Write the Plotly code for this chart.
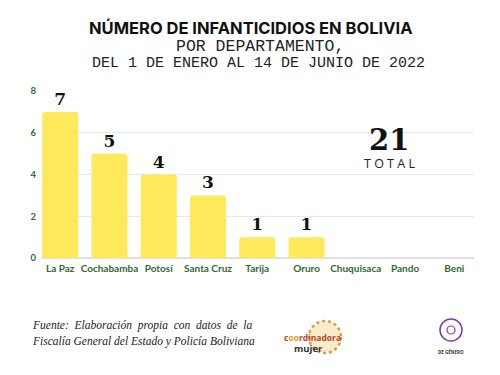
import plotly.graph_objects as go

departamentos = ["La Paz", "Cochabamba", "Potosí", "Santa Cruz", "Tarija", "Oruro", "Chuquisaca", "Pando", "Beni"]
infanticidios = [7, 5, 4, 3, 1, 1, 0, 0, 0]
y_ticks = [0, 2, 4, 6, 8]
total = sum(infanticidios)

W, H = 500, 375
L, R, T, B = 42, 26, 91, 117

def fx(x):
    return (x - L) / (W - L - R)

def fy(y):
    return (H - y - B) / (H - T - B)

labels = [str(v) if v > 0 else "" for v in infanticidios]

fig = go.Figure()
fig.add_trace(go.Bar(
    x=departamentos, y=infanticidios,
    marker=dict(color="#FDE95A", line=dict(width=0)),
    width=0.73,
    text=labels, textposition="outside", cliponaxis=False,
    textfont=dict(family="DejaVu Serif", size=17, color="#111111", weight="bold"),
    hoverinfo="skip",
))

fig.update_layout(
    width=W, height=H,
    margin=dict(l=L, r=R, t=T, b=B),
    paper_bgcolor="white", plot_bgcolor="white",
    showlegend=False,
    barcornerradius=3,
    xaxis=dict(
        range=[-0.37, 8.4], showgrid=False, zeroline=False, showline=False,
        ticks="", ticklabelstandoff=3,
        tickfont=dict(family="Lato", size=10, color="#2f6a30", weight="bold"),
        fixedrange=True,
    ),
    yaxis=dict(
        range=[0, 8], tickvals=y_ticks, showgrid=True, gridcolor="#e8e8e8", gridwidth=1,
        zeroline=True, zerolinecolor="#e0e0e0", zerolinewidth=2, showline=False,
        ticks="", ticklabelstandoff=5,
        tickfont=dict(family="Lato", size=9.5, color="#2f6a30", weight="bold"),
        fixedrange=True,
    ),
)

ann = [
    dict(text="<b>NÚMERO DE INFANTICIDIOS EN BOLIVIA</b>", x=fx(250), y=fy(28), xanchor="center", yanchor="middle",
         font=dict(family="Inter", size=16.5, color="#111111")),
    dict(text="POR DEPARTAMENTO,", x=fx(260), y=fy(47), xanchor="center", yanchor="middle",
         font=dict(family="Liberation Mono", size=16.5, color="#222222")),
    dict(text="DEL 1 DE ENERO AL 14 DE JUNIO DE 2022", x=fx(258), y=fy(63), xanchor="center", yanchor="middle",
         font=dict(family="Liberation Mono", size=15, color="#222222")),
    dict(text="<b>" + str(total) + "</b>", x=fx(389), y=fy(140), xanchor="center", yanchor="middle",
         font=dict(family="DejaVu Serif", size=29, color="#111111")),
    dict(text="T O T A L", x=fx(389), y=fy(163), xanchor="center", yanchor="middle",
         font=dict(family="Open Sans", size=12.5, color="#222222")),
    dict(text="<i>Fuente:  Elaboración  propia  con  datos  de  la</i>", x=fx(30), y=fy(325), xanchor="left", yanchor="middle",
         font=dict(family="Liberation Serif", size=11.5, color="#222222")),
    dict(text="<i>Fiscalía General del Estado y Policía Boliviana</i>", x=fx(30), y=fy(341), xanchor="left", yanchor="middle",
         font=dict(family="Liberation Serif", size=11.5, color="#222222")),
    dict(text="<b>c<span style='color:#e0a030'>oo</span>rdinadora</b>", x=fx(282), y=fy(337), xanchor="left", yanchor="middle",
         font=dict(family="Open Sans", size=8.5, color="#b8462a")),
    dict(text="<b>mujer</b>", x=fx(292), y=fy(348), xanchor="left", yanchor="middle",
         font=dict(family="Open Sans", size=9.5, color="#333333")),
    dict(text="<b>DE GÉNERO</b>", x=fx(451), y=fy(351), xanchor="center", yanchor="middle",
         font=dict(family="Open Sans", size=4.5, color="#333333")),
]
for a in ann:
    a.update(xref="paper", yref="paper", showarrow=False)
fig.update_layout(annotations=ann)

def shp_circle(cx, cy, r, color, fill=None, width=1.5):
    return dict(type="circle", xref="paper", yref="paper",
                x0=fx(cx - r), x1=fx(cx + r), y0=fy(cy + r), y1=fy(cy - r),
                line=dict(color=color, width=width, dash="dot") if fill else dict(color=color, width=width),
                fillcolor=fill or "rgba(0,0,0,0)", layer="below")

shapes = [
    shp_circle(325, 337, 16, "#d9a040", "rgba(245,200,110,0.35)", 2.5),
    shp_circle(451, 330, 11, "#7b3fa0", None, 1.5),
    shp_circle(451, 330, 4, "#7b3fa0", None, 1.2),
]
fig.update_layout(shapes=shapes)

fig.write_html("out.html", config={"displayModeBar": False},
               post_script="document.body.style.margin='0';document.body.style.padding='0';")
